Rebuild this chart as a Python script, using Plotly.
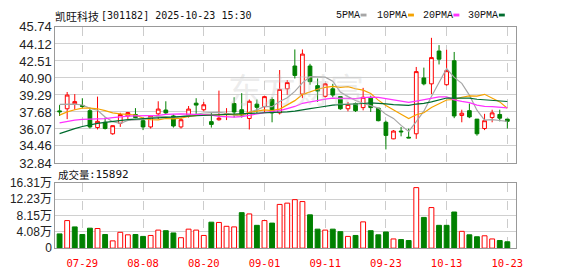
import plotly.graph_objects as go

# ---------------- data ----------------
dates = ["07-24","07-25","07-28","07-29","07-30","07-31","08-01","08-04","08-05","08-06",
         "08-07","08-08","08-11","08-12","08-13","08-14","08-15","08-18","08-19","08-20",
         "08-21","08-22","08-25","08-26","08-27","08-28","08-29","09-01","09-02","09-03",
         "09-04","09-05","09-08","09-09","09-10","09-11","09-12","09-15","09-16","09-17",
         "09-18","09-19","09-22","09-23","09-24","09-25","09-26","09-29","09-30","10-09",
         "10-10","10-13","10-14","10-15","10-16","10-17","10-20","10-21","10-22","10-23"]

opens = [37.78,37.98,38.45,38.30,37.80,36.20,36.70,35.61,36.61,37.30,
         37.44,36.85,36.26,37.50,37.86,37.30,36.26,37.38,38.51,37.89,
         36.76,36.94,37.44,38.48,37.89,37.06,38.42,38.18,38.86,37.59,
         39.87,42.03,39.37,42.03,40.17,39.16,39.87,39.13,37.98,38.48,
         38.09,38.98,38.04,36.70,35.13,35.87,35.28,35.61,40.90,40.34,
         43.45,40.26,42.53,37.35,37.80,37.00,36.11,37.15,37.44,37.00]
highs = [38.33,39.57,39.37,38.98,38.09,39.13,37.15,36.40,37.60,37.68,
         38.04,37.15,37.38,38.69,38.69,37.44,37.15,38.24,38.98,38.63,
         37.59,39.70,38.04,39.07,39.46,38.86,38.86,39.22,39.07,41.65,
         40.70,43.60,43.60,42.24,40.85,40.40,40.34,39.13,38.63,38.57,
         39.96,39.22,38.04,36.85,35.96,36.26,36.10,41.94,41.88,44.70,
         44.01,43.57,43.36,37.89,38.48,37.00,37.50,37.89,37.89,37.00]
lows = [37.30,37.00,37.89,38.00,36.11,36.02,36.02,35.52,36.26,37.00,
        37.09,35.96,36.11,37.00,37.44,36.20,36.11,37.15,37.44,37.74,
        36.20,36.85,36.91,37.15,37.15,36.02,37.59,37.68,36.70,37.44,
        39.30,40.85,38.99,40.26,38.63,39.04,39.07,37.89,37.74,37.68,
        37.83,37.68,36.79,34.13,35.10,35.37,35.20,35.13,40.20,39.37,
        42.18,40.17,37.09,36.70,37.09,35.43,35.96,36.70,36.79,36.11]
closes = [37.70,39.28,38.66,38.20,36.26,36.79,36.11,36.38,37.44,37.62,
          37.15,36.26,37.30,37.95,37.59,36.35,36.94,37.95,38.33,38.36,
          36.50,37.09,37.50,37.68,37.38,38.69,38.12,39.13,37.59,39.81,
          40.46,41.14,43.16,40.55,39.66,40.34,39.28,37.98,38.39,37.80,
          39.07,38.09,36.85,35.46,35.87,35.80,35.22,41.50,40.34,42.83,
          42.68,41.59,37.30,37.56,37.21,35.61,36.85,37.59,37.09,36.79]
prev_close = 37.86   # close of the day before the first bar

# volume in 万 (10k)
volumes = [3.56,6.89,5.31,3.41,4.99,4.91,3.41,1.82,3.96,3.33,
           3.41,2.93,3.17,4.51,4.36,3.80,2.61,4.75,4.51,3.17,
           6.49,6.42,5.46,5.31,8.87,8.55,5.70,6.89,6.26,10.93,
           11.25,12.12,11.64,8.32,4.75,4.51,4.75,4.12,2.93,3.17,
           6.57,4.36,3.33,4.04,2.30,2.14,1.90,15.13,7.68,10.14,
           5.70,5.70,9.03,4.20,3.33,2.85,3.09,2.30,1.90,1.5892]

ma5 = [38.40,38.40,38.42,38.34,38.02,37.84,37.20,36.75,36.60,36.87,
       36.94,36.97,37.15,37.26,37.25,37.09,37.23,37.36,37.43,37.58,
       37.61,37.64,37.55,37.42,37.23,37.67,37.87,38.20,38.18,38.67,
       39.02,39.63,40.43,41.02,40.99,40.97,40.60,39.56,39.13,38.76,
       38.50,38.27,38.04,37.45,37.07,36.41,35.84,36.77,37.75,39.14,
       40.51,41.79,40.95,40.39,39.27,37.85,36.91,36.96,36.87,36.79]
ma10 = [37.38,37.68,37.89,38.04,38.04,37.98,37.80,37.59,37.50,37.44,
        37.39,37.09,36.95,36.93,37.06,37.02,37.10,37.26,37.34,37.42,
        37.35,37.43,37.45,37.43,37.41,37.64,37.76,37.88,37.80,37.95,
        38.35,38.75,39.32,39.60,39.83,40.00,40.11,40.00,40.08,39.88,
        39.74,39.43,38.80,38.29,37.91,37.46,37.05,37.41,37.60,38.10,
        38.46,38.81,38.86,39.07,39.20,39.18,39.35,38.96,38.63,38.03]
ma20 = [36.64,36.80,36.90,36.98,37.00,37.02,37.05,37.15,37.25,37.28,
        37.30,37.32,37.33,37.36,37.45,37.50,37.50,37.47,37.45,37.43,
        37.37,37.26,37.20,37.18,37.23,37.38,37.50,37.62,37.72,37.80,
        38.00,38.20,38.50,38.65,38.75,38.90,38.98,38.98,38.97,38.95,
        39.04,39.09,39.06,38.95,38.87,38.73,38.58,38.70,38.84,38.99,
        39.10,39.12,38.83,38.68,38.56,38.32,38.20,38.18,38.12,38.07]
ma30 = [35.62,35.88,36.10,36.30,36.47,36.60,36.70,36.80,36.88,36.95,
        37.00,37.05,37.10,37.14,37.18,37.22,37.26,37.29,37.32,37.35,
        37.38,37.41,37.44,37.47,37.50,37.53,37.56,37.58,37.59,37.60,
        37.69,37.76,37.91,37.99,38.10,38.22,38.32,38.38,38.41,38.41,
        38.48,38.54,38.52,38.44,38.38,38.36,38.31,38.43,38.49,38.64,
        38.85,39.00,38.99,38.99,38.98,38.88,38.84,38.79,38.77,38.67]

tick_dates = ["07-29","08-08","08-20","09-01","09-11","09-23","10-13","10-23"]
price_ticks = [32.84,34.46,36.07,37.68,39.29,40.90,42.51,44.12,45.74]
price_tick_text = ["32.84","34.46","36.07","37.68","39.29","40.90","42.51","44.12","45.74"]
vol_ticks = [0,4.08,8.15,12.23,16.31]
vol_tick_text = ["0","4.08万","8.15万","12.23万","16.31万"]
title_name = "凯旺科技"
title_rest = "[301182] 2025-10-23 15:30"
vol_label = "成交量"
vol_last = ":15892"
ma_names = ["5PMA","10PMA","20PMA","30PMA"]

# ---------------- style ----------------
RED = "#ff0000"
GREEN = "#008000"
MA_COLORS = ["#a6a6a6", "#f5a300", "#ff33ff", "#006c2e"]
W, H = 578, 276
X0, X1 = 56, 522
P_TOP, P_BOT = 21, 165
V_TOP, V_BOT = 186, 255

def px(x):
    return x / W

def py(y):
    return 1 - y / H

idx = list(range(len(dates)))
tickvals = [dates.index(d) for d in tick_dates]

fig = go.Figure()

fig.add_trace(go.Candlestick(
    x=idx, open=opens, high=highs, low=lows, close=closes,
    increasing=dict(line=dict(color=RED, width=1), fillcolor="white"),
    decreasing=dict(line=dict(color=GREEN, width=1), fillcolor=GREEN),
    whiskerwidth=0, showlegend=False, hoverinfo="skip",
    xaxis="x", yaxis="y"))

for vals, col in zip([ma5, ma10, ma20, ma30], MA_COLORS):
    fig.add_trace(go.Scatter(x=idx, y=vals, mode="lines",
                             line=dict(color=col, width=1.2),
                             showlegend=False, hoverinfo="skip",
                             xaxis="x", yaxis="y"))

prevs = [prev_close] + closes[:-1]
up = [c >= p for c, p in zip(closes, prevs)]
fig.add_trace(go.Bar(
    x=idx, y=volumes, width=0.64,
    marker=dict(color=["white" if u else GREEN for u in up],
                line=dict(color=[RED if u else GREEN for u in up], width=1)),
    showlegend=False, hoverinfo="skip", xaxis="x2", yaxis="y2"))

xr = [-0.56, 60.1]
axis_common = dict(showline=True, mirror=True, linecolor="#999999", linewidth=1,
                   zeroline=False)
fig.update_layout(
    width=W, height=H, margin=dict(l=0, r=0, t=0, b=0),
    paper_bgcolor="white", plot_bgcolor="white", showlegend=False,
    xaxis=dict(domain=[px(X0), px(X1)], range=xr, tickvals=tickvals,
               showticklabels=False, showgrid=True, gridcolor="#cccccc",
               griddash="dash", gridwidth=1, rangeslider=dict(visible=False),
               ticks="", anchor="y", **axis_common),
    yaxis=dict(domain=[py(P_BOT), py(P_TOP)], range=[price_ticks[0], price_ticks[-1]],
               tickvals=price_ticks, ticktext=price_tick_text,
               showgrid=True, gridcolor="#d0d0d0", gridwidth=1, ticks="",
               tickfont=dict(family="Liberation Sans, Arial", size=13, color="#222222"),
               anchor="x", **axis_common),
    xaxis2=dict(domain=[px(X0), px(X1)], range=xr, tickvals=tickvals, ticktext=tick_dates,
                showgrid=True, gridcolor="#cccccc", griddash="dash", gridwidth=1,
                ticks="outside", ticklen=5, tickcolor="rgba(0,0,0,0)",
                tickfont=dict(family="DejaVu Sans Mono", size=10.5, color=RED),
                anchor="y2", **axis_common),
    yaxis2=dict(domain=[py(V_BOT), py(V_TOP)], range=[0, vol_ticks[-1]],
                tickvals=vol_ticks, ticktext=vol_tick_text,
                showgrid=True, gridcolor="#d0d0d0", gridwidth=1, ticks="",
                tickfont=dict(family="Liberation Sans, Noto Sans CJK SC", size=12, color="#222222"),
                anchor="x2", **axis_common),
)

ann = []
def text(x, y, s, family, size, color="#111111"):
    ann.append(dict(x=px(x), y=py(y), xref="paper", yref="paper", text=s,
                    showarrow=False, xanchor="left", yanchor="middle",
                    font=dict(family=family, size=size, color=color)))

text(54, 9, title_name, "Noto Sans CJK SC", 11)
text(100, 9, title_rest, "DejaVu Sans Mono", 10)
leg_x = [338, 380, 426, 472]
sq_x = [365, 413, 459, 505]
for name, lx, sx, col in zip(ma_names, leg_x, sq_x, MA_COLORS):
    text(lx, 9, name, "Liberation Mono", 10)
    fig.add_shape(type="rect", xref="paper", yref="paper",
                  x0=px(sx), x1=px(sx + 6), y0=py(10), y1=py(7),
                  fillcolor=col, line=dict(width=0))
text(57, 177, vol_label, "Noto Sans CJK SC", 10.5)
text(88, 177, vol_last, "DejaVu Sans Mono", 11)

# faint watermark
ann.append(dict(x=px(300), y=py(86), xref="paper", yref="paper", text="东方财富",
                showarrow=False, xanchor="center", yanchor="middle",
                font=dict(family="Noto Sans CJK SC", size=34, color="rgba(200,200,200,0.35)")))

fig.update_layout(annotations=ann)
fig.write_html("out.html")
